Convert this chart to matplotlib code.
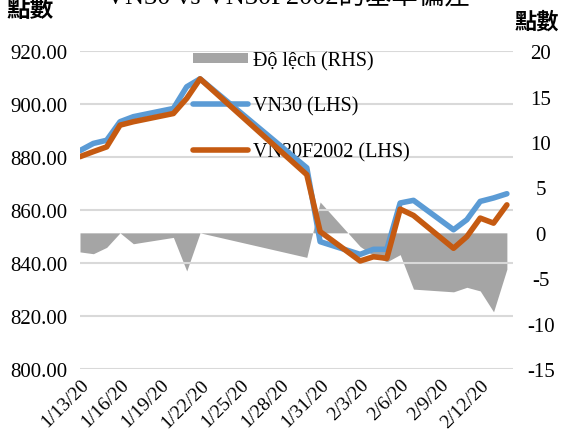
import matplotlib
matplotlib.use("Agg")
import matplotlib.pyplot as plt
import pandas as pd
from matplotlib.patches import Patch
from matplotlib.lines import Line2D

# ---- data ----
dates = ['2020-01-13', '2020-01-14', '2020-01-15', '2020-01-16', '2020-01-17',
         '2020-01-20', '2020-01-21', '2020-01-22', '2020-01-30', '2020-01-31',
         '2020-02-03', '2020-02-04', '2020-02-05', '2020-02-06', '2020-02-07',
         '2020-02-10', '2020-02-11', '2020-02-12', '2020-02-13', '2020-02-14']
vn30 = [882.5, 885.2, 886.4, 893.4, 895.3, 898.4, 906.6, 909.6, 876.0, 848.1,
        843.3, 845.2, 845.2, 862.7, 863.7, 852.6, 856.4, 863.3, 864.6, 866.2]
vn30f2002 = [880.2, 882.1, 883.9, 892.1, 893.4, 896.5, 902.2, 909.6, 873.4, 851.9,
             840.8, 842.4, 841.8, 860.4, 858.0, 845.6, 850.0, 857.0, 855.1, 862.0]
deviation = [-2.1, -2.3, -1.6, 0.0, -1.2, -0.5, -4.2, 0.0, -2.7, 3.4,
             -1.5, -2.5, -3.2, -2.4, -6.2, -6.5, -6.0, -6.4, -8.7, -4.0]
tick_labels = ['1/13/20', '1/16/20', '1/19/20', '1/22/20', '1/25/20', '1/28/20',
               '1/31/20', '2/3/20', '2/6/20', '2/9/20', '2/12/20']
left_ticks = [800, 820, 840, 860, 880, 900, 920]
right_ticks = [-15, -10, -5, 0, 5, 10, 15, 20]

title = 'VN30 vs VN30F2002的基準偏差'
unit_label = '點數'
legend_labels = ['Độ lệch (RHS)', 'VN30 (LHS)', 'VN30F2002 (LHS)']

# ---- styling ----
BLUE = '#5B9BD5'
ORANGE = '#C55A11'
GREY = '#A5A5A5'
GRID = '#D9D9D9'
SERIF = ['Liberation Serif', 'Noto Sans CJK TC', 'DejaVu Serif']
CJK = ['Noto Sans CJK TC', 'DejaVu Sans']
plt.rcParams['font.family'] = SERIF

x = pd.to_datetime(dates)
tick_pos = pd.to_datetime(tick_labels, format='%m/%d/%y')

fig = plt.figure(figsize=(5.71, 4.35), dpi=100)
ax = fig.add_axes([80/571, 1-370/435, 433/571, (370-52.3)/435])
ax2 = ax.twinx()
ax.set_zorder(ax2.get_zorder() + 1)
ax.patch.set_visible(False)

# area (RHS)
ax2.fill_between(x, 0, deviation, color=GREY, linewidth=0, zorder=1)
ax2.set_ylim(-15, 20)
ax2.set_yticks(right_ticks)
ax2.set_yticklabels([str(v) for v in right_ticks], fontsize=15)
ax2.tick_params(axis='y', length=0, pad=20)
for lbl in ax2.get_yticklabels():
    lbl.set_horizontalalignment('center')

# lines (LHS)
ax.plot(x, vn30, color=BLUE, lw=4.0, solid_joinstyle='round', solid_capstyle='round', zorder=4)
ax.plot(x, vn30f2002, color=ORANGE, lw=4.0, solid_joinstyle='round', solid_capstyle='round', zorder=5)
ax.set_ylim(800, 920)
ax.set_yticks(left_ticks)
ax.set_yticklabels([f'{v:.2f}' for v in left_ticks], fontsize=15)
ax.tick_params(axis='y', length=0, pad=9)
ax.grid(axis='y', color=GRID, lw=1.5, zorder=0)
ax.set_axisbelow(True)

ax.set_xlim(x[0], x[-1] + pd.Timedelta(hours=11))
ax.set_xticks(tick_pos)
ax.set_xticklabels(tick_labels, fontsize=14, rotation=45, ha='right', va='top',
                   rotation_mode='anchor')
ax.tick_params(axis='x', length=0, pad=5)
for a in (ax, ax2):
    for s in a.spines.values():
        s.set_visible(False)
ax2.tick_params(axis='x', length=0)

# legend
handles = [Patch(facecolor=GREY, edgecolor='none'),
           Line2D([], [], color=BLUE, lw=4.0, solid_capstyle='round'),
           Line2D([], [], color=ORANGE, lw=4.0, solid_capstyle='round')]
leg = ax.legend(handles, legend_labels, loc='upper left',
                bbox_to_anchor=((193-80)/433, (370-52)/317.7),
                frameon=False, fontsize=14.5, handlelength=2.75, handleheight=0.45,
                handletextpad=0.25, labelspacing=1.3, borderpad=0, borderaxespad=0)
leg.set_zorder(2)

# texts
fig.text(0.505, 1-4/435, title, ha='center', va='baseline', fontsize=19,
         family=SERIF)
fig.text(30/571, 1-10/435, unit_label, ha='center', va='center', fontsize=17,
         fontweight='bold', family=CJK)
fig.text(537/571, 1-22/435, unit_label, ha='center', va='center', fontsize=16,
         fontweight='bold', family=CJK)

fig.savefig('out.png', dpi=100)
